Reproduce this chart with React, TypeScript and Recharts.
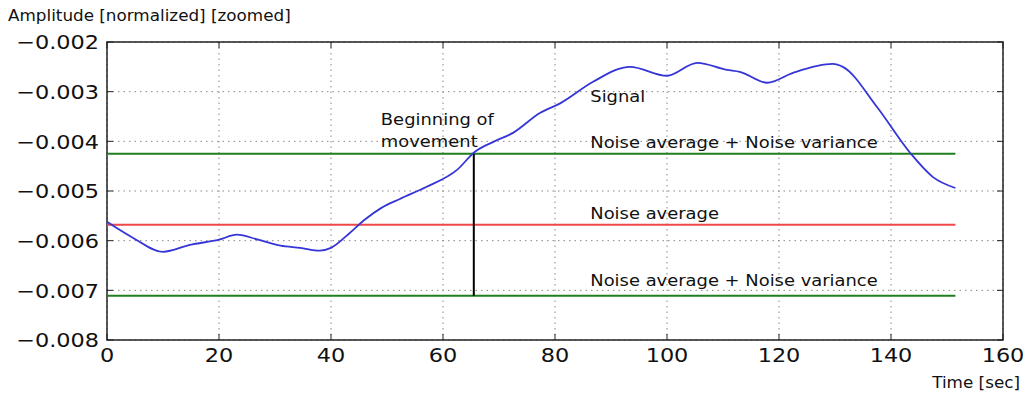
import React from 'react';
import {
  LineChart,
  Line,
  XAxis,
  YAxis,
  CartesianGrid,
  ReferenceLine,
  ReferenceArea,
  ReferenceDot,
} from 'recharts';

// ---- data ----
const TIME = [0, 4.6, 10, 14.8, 20, 23.2, 27, 31, 34.5, 38, 40, 43, 46, 49, 52.3, 57, 62.5, 65.7, 69, 72.5, 77.3, 81, 86.8, 93.4, 100, 105.4, 110.7, 113, 117.9, 122.5, 129.6, 131.4, 137.5, 143.4, 147.5, 151.5];
const SIGNAL = [-0.00562, -0.00594, -0.006225, -0.006085, -0.00598, -0.00588, -0.00598, -0.0061, -0.006145, -0.0062, -0.006145, -0.00588, -0.00558, -0.00534, -0.00516, -0.00492, -0.004575, -0.00421, -0.00401, -0.00383, -0.00343, -0.00323, -0.0028, -0.0025, -0.00268, -0.00242, -0.00256, -0.0026, -0.00282, -0.00262, -0.00244, -0.0025, -0.00331, -0.00423, -0.00472, -0.00494];
const NOISE_AVG = -0.00568;
const NOISE_VAR = 0.00143;
const MOVEMENT_START = 65.5;
const X_TICKS = [0, 20, 40, 60, 80, 100, 120, 140, 160];
const Y_TICKS = [-0.008, -0.007, -0.006, -0.005, -0.004, -0.003, -0.002];
const LABELS = {
  yTitle: 'Amplitude [normalized] [zoomed]',
  xTitle: 'Time [sec]',
  signal: 'Signal',
  upper: 'Noise average + Noise variance',
  avg: 'Noise average',
  lower: 'Noise average + Noise variance',
  begin1: 'Beginning of',
  begin2: 'movement',
};
// annotation anchor positions (data units)
const ANN_X = 86.3;
const BEGIN_X = 48.9;

const data = TIME.map((t, i) => ({ t, signal: SIGNAL[i] }));
const END_T = TIME[TIME.length - 1];

// ---- layout / style ----
const W = 1025;
const H = 396;
const M = { top: 42, left: 0, right: 22, bottom: 0 };
const Y_AXIS_W = 107;
const X_AXIS_H = 56;
const PL = Y_AXIS_W;
const PR = W - M.right;
const PT = M.top;
const PB = H - X_AXIS_H;
const SX = 1.12;
const FONT = 'DejaVu Sans';

const SText = ({ x, y, size, anchor = 'start', dy, children }: any) => (
  <text
    transform={`translate(${x},${y}) scale(${SX},1)`}
    fontSize={size}
    textAnchor={anchor}
    dy={dy}
    fontFamily={FONT}
    fill="#111"
  >
    {children}
  </text>
);

const fmtY = (v: number) => (v < 0 ? '\u2212' : '') + Math.abs(v).toFixed(3);

const XTick = (props: any) => {
  const { x, payload } = props;
  return (
    <g>
      <line x1={x} x2={x} y1={PB} y2={PB - 6} stroke="#222" strokeWidth={1} />
      <line x1={x} x2={x} y1={PT} y2={PT + 6} stroke="#222" strokeWidth={1} />
      <SText x={x} y={PB + 8} size={20} anchor="middle" dy="0.72em">
        {payload.value}
      </SText>
    </g>
  );
};

const YTick = (props: any) => {
  const { y, payload } = props;
  return (
    <g>
      <line x1={PL} x2={PL + 6} y1={y} y2={y} stroke="#222" strokeWidth={1} />
      <line x1={PR} x2={PR - 6} y1={y} y2={y} stroke="#222" strokeWidth={1} />
      <SText x={PL - 8} y={y} size={20} anchor="end" dy="0.36em">
        {fmtY(payload.value)}
      </SText>
    </g>
  );
};

const textShape = (text: string, size = 16) => (p: any) => (
  <SText x={p.cx} y={p.cy} size={size}>
    {text}
  </SText>
);

export default function App() {
  return (
    <div style={{ position: 'absolute', left: 0, top: 0, width: W, height: H, background: '#fff' }}>
      <LineChart width={W} height={H} data={data} margin={M}>
        <CartesianGrid stroke="#888" strokeDasharray="1.5 4" />
        <XAxis
          dataKey="t"
          type="number"
          domain={[0, 160]}
          ticks={X_TICKS}
          axisLine={false}
          tickLine={false}
          height={X_AXIS_H}
          tick={XTick}
          interval={0}
          label={{
            content: ({ viewBox }: any) => (
              <SText x={viewBox.x + viewBox.width + 17} y={viewBox.y + 48} size={15} anchor="end">
                {LABELS.xTitle}
              </SText>
            ),
          }}
        />
        <YAxis
          type="number"
          domain={[-0.008, -0.002]}
          ticks={Y_TICKS}
          axisLine={false}
          tickLine={false}
          width={Y_AXIS_W}
          tick={YTick}
          interval={0}
          label={{
            content: ({ viewBox }: any) => (
              <SText x={viewBox.x + 8} y={viewBox.y - 21} size={15}>
                {LABELS.yTitle}
              </SText>
            ),
          }}
        />
        <ReferenceLine
          segment={[{ x: 0, y: NOISE_AVG + NOISE_VAR }, { x: END_T, y: NOISE_AVG + NOISE_VAR }]}
          stroke="#1f7f1f"
          strokeWidth={2}
        />
        <ReferenceLine
          segment={[{ x: 0, y: NOISE_AVG }, { x: END_T, y: NOISE_AVG }]}
          stroke="#f04848"
          strokeWidth={2}
        />
        <ReferenceLine
          segment={[{ x: 0, y: NOISE_AVG - NOISE_VAR }, { x: END_T, y: NOISE_AVG - NOISE_VAR }]}
          stroke="#1f7f1f"
          strokeWidth={2}
        />
        <ReferenceLine
          segment={[{ x: MOVEMENT_START, y: NOISE_AVG + NOISE_VAR }, { x: MOVEMENT_START, y: NOISE_AVG - NOISE_VAR }]}
          stroke="#000"
          strokeWidth={2}
        />
        <Line
          dataKey="signal"
          type="monotone"
          stroke="#3535d8"
          strokeWidth={1.8}
          dot={false}
          isAnimationActive={false}
        />
        <ReferenceDot x={ANN_X} y={-0.003207} r={0} shape={textShape(LABELS.signal)} />
        <ReferenceDot x={ANN_X} y={-0.004133} r={0} shape={textShape(LABELS.upper)} />
        <ReferenceDot x={ANN_X} y={-0.005561} r={0} shape={textShape(LABELS.avg)} />
        <ReferenceDot x={ANN_X} y={-0.006909} r={0} shape={textShape(LABELS.lower)} />
        <ReferenceDot x={BEGIN_X} y={-0.003670} r={0} shape={textShape(LABELS.begin1)} />
        <ReferenceDot x={BEGIN_X} y={-0.004110} r={0} shape={textShape(LABELS.begin2)} />
        <ReferenceArea
          x1={0}
          x2={160}
          y1={-0.008}
          y2={-0.002}
          fill="none"
          stroke="#222"
          strokeWidth={1.5}
        />
      </LineChart>
    </div>
  );
}
